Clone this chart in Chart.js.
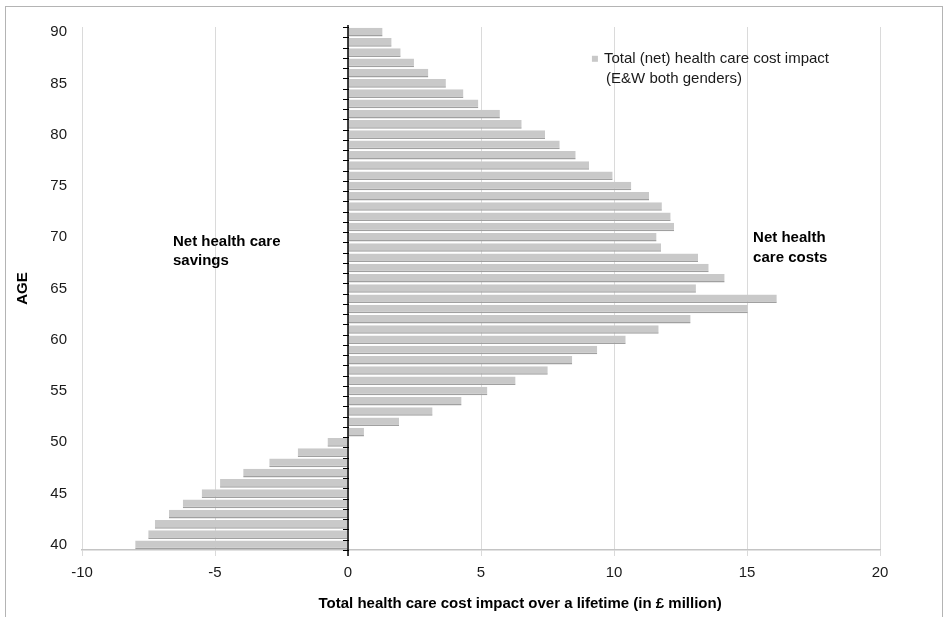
<!DOCTYPE html>
<html lang="en">
<head>
    <meta charset="UTF-8">
    <title>Total health care cost impact by age</title>
    <script src="https://cdn.jsdelivr.net/npm/chart.js"></script>
    <style>
        html, body { margin: 0; padding: 0; background: #fff; overflow: hidden; }
        #frame {
            position: absolute; left: 5px; top: 6px; width: 938px; height: 660px;
            border: 1px solid #b4b4b4; box-sizing: border-box;
        }
        #costChart { position: absolute; left: 0; top: 0; }
    </style>
</head>
<body>
    <div id="frame"></div>
    <canvas id="costChart" width="948" height="617"></canvas>

    <script>
        // Ages (category axis), bottom to top
        const ages = ['40','41','42','43','44','45','46','47','48','49',
                      '50','51','52','53','54','55','56','57','58','59',
                      '60','61','62','63','64','65','66','67','68','69',
                      '70','71','72','73','74','75','76','77','78','79',
                      '80','81','82','83','84','85','86','87','88','89','90'];

        // Total (net) health care cost impact, £ million, per age
        const costImpact = [-8.00, -7.51, -7.26, -6.73, -6.21, -5.50, -4.81, -3.94, -2.96, -1.89,
                            -0.77, 0.60, 1.92, 3.18, 4.27, 5.24, 6.30, 7.51, 8.43, 9.37,
                            10.44, 11.68, 12.88, 15.03, 16.12, 13.08, 14.16, 13.56, 13.16, 11.77,
                            11.60, 12.26, 12.13, 11.80, 11.32, 10.65, 9.95, 9.06, 8.56, 7.96,
                            7.41, 6.53, 5.71, 4.90, 4.34, 3.68, 3.02, 2.48, 1.98, 1.64, 1.30];

        const seriesName = ['Total (net) health care cost impact', ' (E&W both genders)'];
        const xTitle = 'Total health care cost impact over a lifetime (in £ million)';
        const yTitle = 'AGE';
        const savingsNote = ['Net health care', 'savings'];
        const costsNote = ['Net health', 'care costs'];

        const FONT = "'Liberation Sans', Arial, sans-serif";

        // extra drawing: zero axis with minor ticks, legend, notes and x title
        const decorations = {
            id: 'decorations',
            afterDatasetsDraw(chart) {
                const ctx = chart.ctx;
                const xs = chart.scales.x;
                const ys = chart.scales.y;
                const area = chart.chartArea;
                const x0 = xs.getPixelForValue(0);

                ctx.save();
                // zero line
                ctx.strokeStyle = '#000';
                ctx.lineWidth = 1.5;
                ctx.beginPath();
                ctx.moveTo(x0, area.top - 2);
                ctx.lineTo(x0, area.bottom + 6);
                ctx.stroke();

                // minor tick marks between categories
                ctx.lineWidth = 1;
                for (let i = 0; i <= ages.length; i++) {
                    const y = Math.round(ys.getPixelForValue(i - 0.5)) + 0.5;
                    ctx.beginPath();
                    ctx.moveTo(x0 - 5, y);
                    ctx.lineTo(x0 + 1, y);
                    ctx.stroke();
                }

                // legend
                const lx = xs.getPixelForValue(9.17);
                const ly = ys.getPixelForValue(47.4);
                ctx.fillStyle = '#c8c8c8';
                ctx.fillRect(lx, ly - 3, 6, 6);
                ctx.fillStyle = '#1a1a1a';
                ctx.font = '15px ' + FONT;
                ctx.textBaseline = 'middle';
                ctx.textAlign = 'left';
                ctx.fillText(seriesName[0], lx + 12, ly);
                ctx.fillText(seriesName[1], lx + 10, ly + 20);

                // notes
                ctx.font = 'bold 15px ' + FONT;
                ctx.fillStyle = '#000';
                const sx = xs.getPixelForValue(-6.58);
                const sy = ys.getPixelForValue(29.5);
                ctx.fillText(savingsNote[0], sx, sy);
                ctx.fillText(savingsNote[1], sx, sy + 19);
                const cx = xs.getPixelForValue(15.23);
                const cy = ys.getPixelForValue(29.95);
                ctx.fillText(costsNote[0], cx, cy);
                ctx.fillText(costsNote[1], cx, cy + 20);

                // x axis title
                ctx.textAlign = 'center';
                ctx.fillText(xTitle, xs.getPixelForValue(6.47), area.bottom + 54);
                ctx.restore();
            }
        };

        const ctx = document.getElementById('costChart').getContext('2d');
        const costChart = new Chart(ctx, {
            type: 'bar',
            data: {
                labels: ages,
                datasets: [{
                    label: seriesName.join(''),
                    data: costImpact,
                    backgroundColor: '#c9c9c9',
                    borderColor: '#a0a0a0',
                    borderWidth: { top: 0, left: 0, right: 0, bottom: 1.5 },
                    borderSkipped: false,
                    barPercentage: 0.84,
                    categoryPercentage: 1.0
                }]
            },
            plugins: [decorations],
            options: {
                indexAxis: 'y',
                responsive: false,
                animation: false,
                layout: { padding: { left: 0, top: 27, right: 68, bottom: 0 } },
                plugins: {
                    legend: { display: false },
                    tooltip: { enabled: false }
                },
                scales: {
                    x: {
                        type: 'linear',
                        min: -10,
                        max: 20,
                        afterFit: (scale) => { scale.height = 67; },
                        ticks: {
                            stepSize: 5,
                            padding: 8,
                            color: '#1a1a1a',
                            font: { family: FONT, size: 15 }
                        },
                        grid: {
                            color: '#dadada',
                            lineWidth: 1,
                            tickLength: 6,
                            drawTicks: true
                        },
                        border: { display: true, color: '#c4c4c4', width: 1.5 }
                    },
                    y: {
                        type: 'category',
                        reverse: true,
                        afterFit: (scale) => { scale.width = 82; },
                        grid: { display: false, drawTicks: false },
                        border: { display: false },
                        ticks: {
                            autoSkip: false,
                            padding: 15,
                            color: '#1a1a1a',
                            font: { family: FONT, size: 15 },
                            callback: function(value, index) {
                                const age = Number(ages[index]);
                                return age % 5 === 0 ? ages[index] : '';
                            }
                        },
                        title: {
                            display: true,
                            text: yTitle,
                            color: '#000',
                            font: { family: FONT, size: 15, weight: 'bold' },
                            padding: { top: 14, bottom: 0 }
                        }
                    }
                }
            }
        });
    </script>
</body>
</html>
